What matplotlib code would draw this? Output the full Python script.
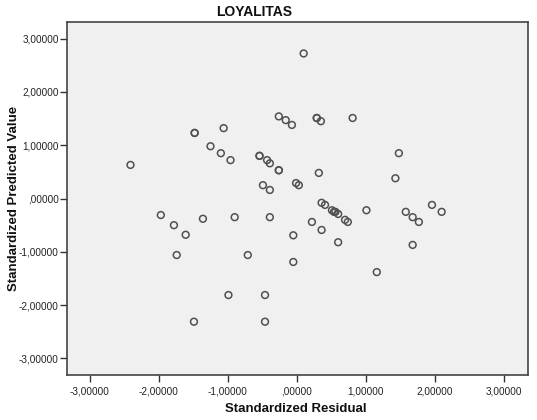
import matplotlib
matplotlib.use("Agg")
import matplotlib.pyplot as plt
from matplotlib.ticker import FuncFormatter

resid = [0.10, -2.41, -1.48, -1.48, -1.06, -1.25, -1.10, -0.96, -0.26, -0.16, -0.07,
         -0.54, -0.54, -0.43, -0.39, -0.26, -0.26, -0.49, -0.39, 0.29, 0.29, 0.35, 0.81,
         1.48, 1.43, 0.32, -0.01, 0.03, 0.36, 0.41, 0.51, 0.54, 0.56, 0.60, 0.70, 0.74,
         0.22, 0.36, 0.60, -0.05, -0.05, 1.01, 1.16, 1.58, 1.68, 1.77, 1.68, 1.96, 2.10,
         -1.97, -1.36, -0.90, -0.39, -1.78, -1.61, -1.74, -0.71, -0.99, -0.46, -1.49, -0.46]
pred = [2.72, 0.63, 1.23, 1.23, 1.32, 0.98, 0.85, 0.72, 1.54, 1.47, 1.38,
        0.80, 0.80, 0.72, 0.66, 0.53, 0.53, 0.25, 0.16, 1.51, 1.51, 1.45, 1.51,
        0.85, 0.38, 0.48, 0.29, 0.25, -0.08, -0.12, -0.22, -0.25, -0.25, -0.29, -0.40, -0.44,
        -0.44, -0.59, -0.82, -0.69, -1.19, -0.22, -1.38, -0.25, -0.35, -0.44, -0.87, -0.12, -0.25,
        -0.31, -0.38, -0.35, -0.35, -0.50, -0.68, -1.06, -1.06, -1.81, -1.81, -2.31, -2.31]
ticks = [-3, -2, -1, 0, 1, 2, 3]

def fmt(v, pos):
    s = f"{v:.5f}".replace(".", ",")
    if s.startswith("0,"):
        s = s[1:]
    if s.startswith("-0,"):
        s = "-" + s[2:]
    return s

fig = plt.figure(figsize=(5.37, 4.20), dpi=100)
ax = fig.add_axes([0.1248, 0.1071, 0.8582, 0.8405])
ax.set_facecolor("#f0f0f0")
ax.scatter(resid, pred, s=24, facecolors="none", edgecolors="#505050", linewidths=1.1, zorder=3)
ax.set_xlim(-3.33, 3.35)
ax.set_ylim(-3.31, 3.31)
ax.set_xticks(ticks)
ax.set_yticks(ticks)
ax.xaxis.set_major_formatter(FuncFormatter(fmt))
ax.yaxis.set_major_formatter(FuncFormatter(fmt))
ax.tick_params(direction="out", length=5, width=1, color="#333333", labelsize=7.2, labelcolor="#222222")
ax.tick_params(axis="y", pad=1)
ax.tick_params(axis="x", pad=3)
for sp in ax.spines.values():
    sp.set_color("#444444")
    sp.set_linewidth(1.2)
fig.text(254 / 537, 1 - 12 / 420, "LOYALITAS", fontsize=10, fontweight="bold",
         ha="center", va="center", family="Liberation Sans", color="#111111")
ax.set_xlabel("Standardized Residual", fontsize=9.5, fontweight="bold", family="Liberation Sans", color="#111111")
ax.set_ylabel("Standardized Predicted Value", fontsize=9.5, fontweight="bold", family="Liberation Sans", color="#111111")
ax.xaxis.set_label_coords(0.497, -0.08)
ax.yaxis.set_label_coords(-0.103, 0.5)
for lbl in ax.get_xticklabels() + ax.get_yticklabels():
    lbl.set_family("Liberation Sans")
fig.savefig("out.png", dpi=100, facecolor="white")
